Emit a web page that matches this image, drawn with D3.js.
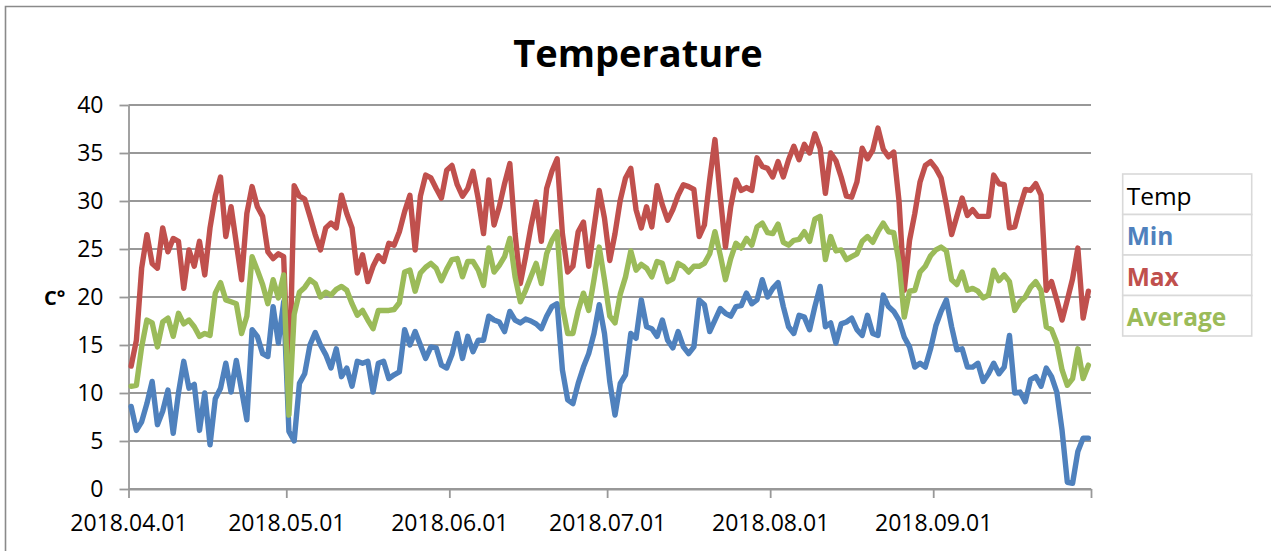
<!DOCTYPE html>
<html>
<head>
<meta charset="utf-8">
<script src="https://cdn.jsdelivr.net/npm/d3@7"></script>
<style>
  html, body { margin: 0; padding: 0; background: #fff; }
  svg { display: block; }
</style>
</head>
<body>
<svg id="chart" width="1271" height="551"></svg>
<script>
// ---------------- DATA ----------------
const chartTitle = "Temperature";
const yAxisTitle = "C°";
const startDate = "2018-04-01";          // first day of the daily series
const axisEndDate = "2018-10-01";
const tickLabels = ["2018.04.01", "2018.05.01", "2018.06.01", "2018.07.01", "2018.08.01", "2018.09.01"];
const yTicks = [0, 5, 10, 15, 20, 25, 30, 35, 40];
const legendHeader = "Temp";
const seriesNames = ["Min", "Max", "Average"];

const minTemps = [
  8.6, 6.1, 7.0, 8.9, 11.2, 6.7, 8.1, 10.3, 5.8, 10.0,
  13.3, 10.5, 10.9, 6.1, 10.0, 4.6, 9.4, 10.5, 13.1, 10.1,
  13.4, 10.3, 7.2, 16.6, 15.9, 14.1, 13.8, 19.0, 15.2, 19.5,
  6.0, 5.0, 11.0, 12.0, 15.0, 16.3, 15.0, 14.0, 12.6, 14.6,
  11.7, 12.6, 10.7, 13.3, 13.1, 13.3, 10.1, 13.1, 13.3, 11.5,
  11.9, 12.2, 16.6, 15.0, 16.4, 15.0, 13.6, 14.8, 14.7, 12.9,
  12.6, 14.0, 16.2, 13.6, 15.9, 14.3, 15.5, 15.5, 18.0, 17.6,
  17.4, 16.4, 18.5, 17.6, 17.3, 17.7, 17.5, 17.2, 16.7, 18.0,
  19.0, 19.3, 12.4, 9.3, 8.9, 11.0, 12.7, 14.1, 16.2, 19.2,
  16.2, 11.2, 7.7, 11.0, 11.9, 16.2, 15.7, 19.7, 16.9, 16.7,
  15.9, 17.6, 15.5, 14.7, 16.4, 14.8, 14.1, 14.8, 19.7, 19.2,
  16.4, 17.6, 18.8, 18.3, 18.0, 19.0, 19.1, 20.4, 19.3, 19.7,
  21.8, 20.0, 20.9, 21.5, 19.0, 16.9, 16.2, 18.1, 17.9, 16.6,
  19.0, 21.1, 16.9, 17.3, 15.2, 17.2, 17.4, 17.8, 16.6, 16.0,
  18.1, 16.2, 16.0, 20.2, 19.0, 18.5, 17.6, 15.8, 14.8, 12.7,
  13.1, 12.7, 14.6, 17.0, 18.5, 19.7, 16.9, 14.5, 14.6, 12.7,
  12.7, 13.1, 11.2, 12.0, 13.1, 12.0, 12.7, 16.0, 10.0, 10.1,
  9.1, 11.4, 11.7, 10.7, 12.6, 11.7, 10.1, 6.1, 0.7, 0.6,
  3.9, 5.3, 5.3
];

const maxTemps = [
  12.8, 15.5, 23.0, 26.5, 23.5, 23.0, 27.2, 24.7, 26.1, 25.8,
  20.9, 24.9, 23.2, 25.8, 22.3, 27.2, 30.5, 32.5, 26.3, 29.4,
  25.6, 21.8, 28.7, 31.5, 29.4, 28.4, 24.7, 24.0, 24.5, 24.2,
  9.5, 31.6, 30.5, 30.2, 28.4, 26.5, 24.9, 27.2, 27.7, 27.2,
  30.6, 28.7, 27.2, 22.5, 24.4, 21.6, 23.2, 24.3, 23.7, 25.6,
  25.4, 26.8, 28.9, 30.6, 24.9, 30.5, 32.7, 32.4, 31.3, 30.3,
  33.2, 33.7, 31.7, 30.5, 31.3, 33.1, 30.2, 26.6, 32.2, 27.5,
  29.4, 31.8, 33.9, 26.6, 21.4, 24.2, 27.3, 29.9, 25.8, 31.3,
  33.1, 34.4, 26.6, 22.6, 23.2, 26.8, 27.8, 23.2, 27.2, 31.1,
  28.2, 23.8, 26.6, 30.1, 32.4, 33.4, 29.1, 27.2, 29.4, 27.3,
  31.6, 29.6, 28.0, 29.1, 30.6, 31.7, 31.5, 31.2, 26.3, 27.5,
  32.2, 36.4, 30.5, 25.2, 29.4, 32.2, 31.1, 31.4, 31.1, 34.5,
  33.6, 33.4, 32.5, 34.1, 32.5, 34.3, 35.7, 34.3, 35.9, 35.0,
  37.0, 35.5, 30.8, 35.0, 34.2, 32.5, 30.5, 30.4, 32.0, 35.5,
  34.4, 35.3, 37.6, 35.4, 34.6, 35.1, 30.0, 20.7, 25.9, 28.7,
  32.0, 33.7, 34.1, 33.4, 32.4, 29.6, 26.5, 28.4, 30.3, 28.5,
  29.1, 28.4, 28.4, 28.4, 32.7, 31.8, 31.7, 27.2, 27.3, 29.4,
  31.2, 31.1, 31.8, 30.6, 20.7, 21.6, 19.7, 17.6, 19.7, 21.9,
  25.1, 17.8, 20.6
];

const avgTemps = [
  10.7, 10.8, 14.8, 17.6, 17.3, 14.8, 17.4, 17.8, 15.9, 18.3,
  17.2, 17.6, 16.9, 15.9, 16.2, 16.0, 20.4, 21.5, 19.7, 19.5,
  19.3, 16.2, 18.0, 24.2, 22.8, 21.3, 19.3, 21.8, 19.9, 22.3,
  7.7, 18.2, 20.5, 21.0, 21.8, 21.4, 20.0, 20.5, 20.2, 20.8,
  21.1, 20.7, 19.3, 18.1, 18.6, 17.6, 16.7, 18.6, 18.6, 18.6,
  18.7, 19.4, 22.6, 22.8, 20.6, 22.5, 23.1, 23.5, 23.0, 21.7,
  22.9, 23.9, 24.0, 22.1, 23.7, 23.7, 22.8, 21.2, 25.1, 22.6,
  23.3, 24.2, 26.1, 22.1, 19.5, 20.7, 22.1, 23.5, 21.4, 24.5,
  25.9, 26.8, 19.0, 16.2, 16.2, 18.6, 20.4, 18.6, 21.8, 25.2,
  21.8, 18.0, 17.3, 20.3, 22.1, 24.8, 22.8, 23.4, 23.0, 22.1,
  23.7, 23.5, 21.6, 21.9, 23.5, 23.2, 22.6, 23.2, 23.2, 23.5,
  24.5, 26.8, 24.4, 21.8, 24.0, 25.6, 25.1, 26.1, 25.4, 27.3,
  27.7, 26.7, 26.6, 27.6, 25.7, 25.4, 25.9, 26.0, 26.8, 25.8,
  28.1, 28.4, 23.9, 26.3, 24.8, 24.9, 23.9, 24.2, 24.5, 25.8,
  26.3, 25.7, 26.8, 27.7, 26.8, 26.7, 23.6, 17.9, 20.6, 20.7,
  22.6, 23.2, 24.3, 24.9, 25.2, 24.8, 21.8, 21.3, 22.6, 20.7,
  20.9, 20.6, 19.9, 20.2, 22.8, 21.7, 22.3, 21.6, 18.6, 19.5,
  20.0, 21.0, 21.6, 20.7, 16.9, 16.6, 15.2, 12.4, 10.8, 11.5,
  14.6, 11.5, 12.9
];

const seriesColors = ["#4F81BD", "#C0504D", "#9BBB59"];

// ---------------- CHART ----------------
const svg = d3.select("#chart");
const FONT = "'Open Sans', 'Liberation Sans', sans-serif";
const gridColor = "#989898";

const plot = { left: 128.5, right: 1091, top: 105, bottom: 489 };

const parseDay = d3.timeParse("%Y-%m-%d");
const parseLabel = d3.timeParse("%Y.%m.%d");
const t0 = parseDay(startDate);
const t1 = parseDay(axisEndDate);

const x = d3.scaleTime().domain([t0, t1]).range([plot.left, plot.right]);
const y = d3.scaleLinear().domain([0, 40]).range([plot.bottom, plot.top]);

// chart outer frame
svg.append("path")
  .attr("d", "M5.5,560 V6.5 H1280")
  .attr("fill", "none")
  .attr("stroke", "#8a8a8a")
  .attr("stroke-width", 1.6);

// title
svg.append("text")
  .attr("x", 638).attr("y", 66.5)
  .attr("text-anchor", "middle")
  .attr("font-family", FONT)
  .attr("font-weight", "bold")
  .attr("font-size", 38)
  .attr("fill", "#000")
  .text(chartTitle);

// horizontal gridlines
svg.append("g")
  .selectAll("line")
  .data(yTicks)
  .join("line")
  .attr("x1", plot.left).attr("x2", plot.right)
  .attr("y1", d => y(d)).attr("y2", d => y(d))
  .attr("stroke", gridColor)
  .attr("stroke-width", 1.8);

// y axis
const yAxis = svg.append("g")
  .attr("transform", `translate(${plot.left},0)`)
  .call(d3.axisLeft(y).tickValues(yTicks).tickSize(9).tickSizeOuter(0).tickPadding(16));
yAxis.select(".domain").attr("stroke", gridColor).attr("stroke-width", 1.8);
yAxis.selectAll(".tick line").attr("stroke", gridColor).attr("stroke-width", 1.8);
yAxis.selectAll(".tick text")
  .attr("font-family", FONT).attr("font-size", 23).attr("fill", "#000");

// x axis (month ticks, incl. the end of the range)
const tickDates = tickLabels.map(s => parseLabel(s)).concat([t1]);
const xAxis = svg.append("g")
  .attr("transform", `translate(0,${plot.bottom})`)
  .call(d3.axisBottom(x)
    .tickValues(tickDates)
    .tickSize(9).tickSizeOuter(0).tickPadding(17)
    .tickFormat((d, i) => tickLabels[i] || ""));
xAxis.select(".domain").attr("stroke", gridColor).attr("stroke-width", 1.8);
xAxis.selectAll(".tick line").attr("stroke", gridColor).attr("stroke-width", 1.8);
xAxis.selectAll(".tick text")
  .attr("font-family", FONT).attr("font-size", 23).attr("fill", "#000");

// y axis title
svg.append("text")
  .attr("x", 44).attr("y", 305)
  .attr("font-family", FONT)
  .attr("font-weight", "bold")
  .attr("font-size", 20)
  .attr("fill", "#000")
  .text(yAxisTitle);

// series (each day plotted at the middle of its date slot)
const dayPos = i => x(d3.timeHour.offset(d3.timeDay.offset(t0, i), 12));
const line = d3.line()
  .x((d, i) => dayPos(i))
  .y(d => y(d));

const allSeries = [minTemps, maxTemps, avgTemps];
svg.append("g")
  .selectAll("path")
  .data(allSeries)
  .join("path")
  .attr("d", d => line(d))
  .attr("fill", "none")
  .attr("stroke", (d, i) => seriesColors[i])
  .attr("stroke-width", 5.4)
  .attr("stroke-linejoin", "round")
  .attr("stroke-linecap", "round");

// legend (table-like box)
const legend = { x: 1122.7, y: 174, w: 129, rowH: 40.5 };
const legendItems = [{ name: legendHeader, color: "#000", bold: false }]
  .concat(seriesNames.map((n, i) => ({ name: n, color: seriesColors[i], bold: true })));

const lg = svg.append("g");
lg.selectAll("rect")
  .data(legendItems)
  .join("rect")
  .attr("x", legend.x)
  .attr("y", (d, i) => legend.y + i * legend.rowH)
  .attr("width", legend.w)
  .attr("height", legend.rowH)
  .attr("fill", "#fff")
  .attr("stroke", "#d9d9d9")
  .attr("stroke-width", 1.6);
lg.selectAll("text")
  .data(legendItems)
  .join("text")
  .attr("x", legend.x + 4)
  .attr("y", (d, i) => legend.y + i * legend.rowH + 30.5)
  .attr("font-family", FONT)
  .attr("font-size", 24.5)
  .attr("font-weight", d => d.bold ? "bold" : "normal")
  .attr("fill", d => d.color)
  .text(d => d.name);
</script>
</body>
</html>
